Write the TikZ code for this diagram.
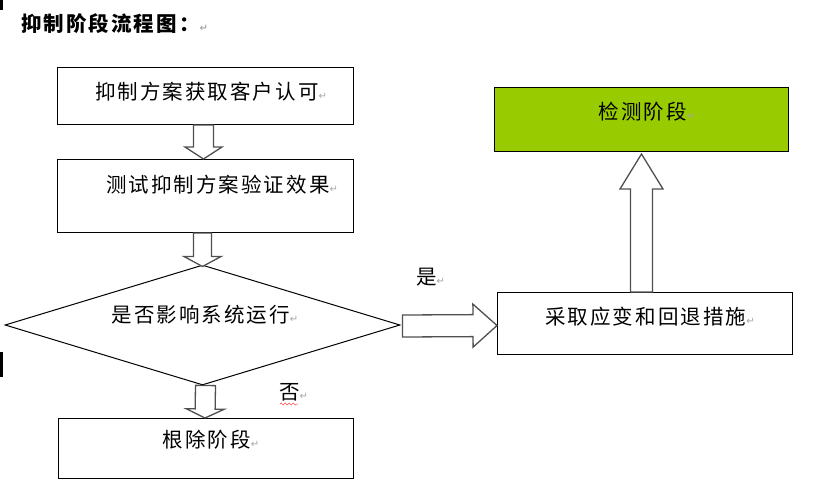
\documentclass[tikz,border=0pt]{standalone}
\usepackage{fontspec}
\usetikzlibrary{calc,shapes.geometric,decorations.pathmorphing}
\newfontfamily\cjk[LetterSpace=10]{Noto Sans CJK SC}
\newfontfamily\dejavu{DejaVu Sans}
\definecolor{detgreen}{RGB}{153,204,0}
\definecolor{arrline}{RGB}{80,80,80}
\newcommand\pmark{{\dejavu\fontsize{10}{10}\selectfont\color{black!35}↵}}
\newcommand\blockarrow[5]{%
  \coordinate (ba-s) at (#1);
  \coordinate (ba-t) at (#2);
  \coordinate (ba-h) at ($(ba-t)!#5!(ba-s)$);
  \draw[blockarr] ($(ba-s)!#3!90:(ba-t)$) -- ($(ba-h)!#3!90:(ba-t)$) -- ($(ba-h)!#4!90:(ba-t)$) -- (ba-t) -- ($(ba-h)!#4!-90:(ba-t)$) -- ($(ba-h)!#3!-90:(ba-t)$) -- ($(ba-s)!#3!-90:(ba-t)$) -- cycle;}
\begin{document}
\begin{tikzpicture}[x=1pt,y=-1pt,
  stepbox/.style={draw=black, line width=1pt, inner sep=0pt, anchor=north west},
  txt/.style={font=\cjk\fontsize{20.5}{24}\selectfont, inner sep=0pt},
  blockarr/.style={draw=arrline, line width=1.3pt, fill=white, line join=miter}]
\useasboundingbox (0,0) rectangle (833,501);
% margin marks
\fill[black] (0,0) rectangle (2.5,10);
\fill[black] (0,352) rectangle (2.5,377);
% title
\node[txt, font=\cjk\bfseries\fontsize{20.5}{24}\selectfont, anchor=west] (title) at (21,24) {抑制阶段流程图：\pmark};
% boxes
\node[stepbox, minimum width=296pt, minimum height=57pt] (b1) at (57,67) {};
\node[stepbox, minimum width=296pt, minimum height=73pt] (b2) at (57,159) {};
\node[draw=black, line width=1pt, shape=diamond, inner sep=0pt, minimum width=395pt, minimum height=120pt] (dia) at (202.5,325) {};
\node[stepbox, minimum width=295pt, minimum height=60pt] (b4) at (58,418) {};
\node[stepbox, minimum width=295pt, minimum height=62pt] (b5) at (497,292) {};
\node[stepbox, fill=detgreen, minimum width=294pt, minimum height=64pt] (g) at (494,87) {};
% texts
\node[txt] (t1) at (211,92) {抑制方案获取客户认可\pmark};
\node[txt] (t2) at (222,185) {测试抑制方案验证效果\pmark};
\node[txt] (t3) at (205,315) {是否影响系统运行\pmark};
\node[txt] (t4) at (211,440) {根除阶段\pmark};
\node[txt] (t5) at (650,317) {采取应变和回退措施\pmark};
\node[txt] (t6) at (647,112) {检测阶段\pmark};
\node[txt, anchor=west] (yes) at (416,277) {是\pmark};
\node[txt, anchor=west] (no) at (279,392) {否\pmark};
\draw[red!70, line width=0.6pt, decorate, decoration={snake, amplitude=1pt, segment length=4pt}] ($(no.south west)+(1,3)$) -- ($(no.south west)+(19,3)$);
% block arrows
\blockarrow{$(b1.south)+(-2,0)$}{$(b2.north)+(-2,0)$}{10pt}{18.5pt}{12pt}
\blockarrow{$(b2.south)+(-3,0)$}{$(dia.north)+(0,2)$}{9pt}{18.5pt}{10pt}
\blockarrow{$(dia.south)+(3,0)$}{$(b4.north)+(-1,0)$}{10pt}{19pt}{9pt}
\blockarrow{$(dia.east)+(2,1)$}{$(b5.west)+(0,2)$}{11pt}{21.5pt}{24pt}
\blockarrow{$(b5.north)+(-3.5,0)$}{$(g.south)+(0,2)$}{11pt}{21.5pt}{35pt}
\end{tikzpicture}
\end{document}
